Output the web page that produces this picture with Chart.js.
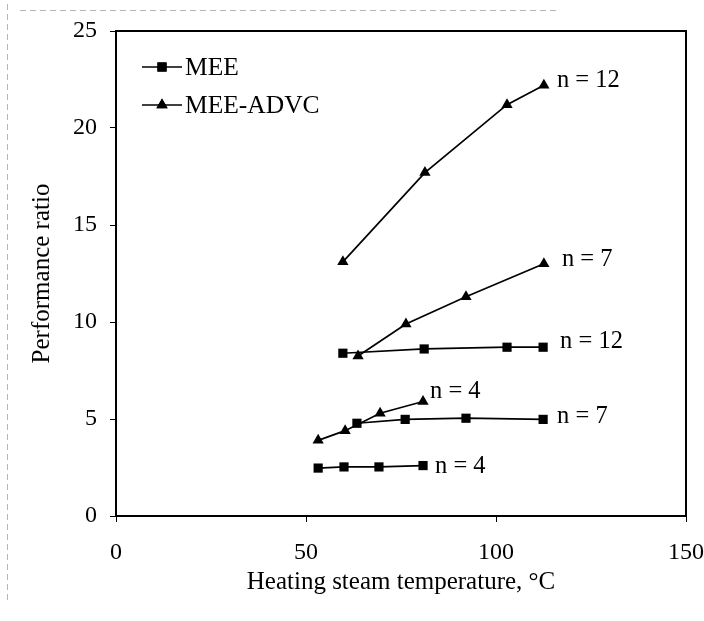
<!DOCTYPE html>
<html>
<head>
<meta charset="utf-8">
<script src="https://cdn.jsdelivr.net/npm/chart.js@4"></script>
<style>
  html, body { margin: 0; padding: 0; background: #fff; }
  #wrap { width: 704px; height: 621px; }
</style>
</head>
<body>
<div id="wrap"><canvas id="prChart" width="704" height="621"></canvas></div>
<script>
// Heating steam temperature (deg C) and performance ratio
const meeTemp4 = [53.2, 60.0, 69.2, 80.8];
const meePR4 = [2.47, 2.53, 2.53, 2.6];
const meeTemp7 = [63.4, 76.1, 92.1, 112.4];
const meePR7 = [4.78, 4.98, 5.04, 4.98];
const meeTemp12 = [59.7, 81.1, 102.9, 112.4];
const meePR12 = [8.39, 8.61, 8.7, 8.7];

const advcTemp4 = [53.2, 60.3, 69.5, 80.8];
const advcPR4 = [3.9, 4.4, 5.3, 5.9];
const advcTemp7 = [63.7, 76.3, 92.1, 112.6];
const advcPR7 = [8.25, 9.9, 11.3, 13.0];
const advcTemp12 = [59.7, 81.3, 102.9, 112.6];
const advcPR12 = [13.1, 17.7, 21.2, 22.2];

const seriesNames = ['MEE', 'MEE-ADVC'];
const curveLabels = ['n = 4', 'n = 7', 'n = 12', 'n = 4', 'n = 7', 'n = 12'];
const xTicks = [0, 50, 100, 150];
const yTicks = [0, 5, 10, 15, 20, 25];

const FONT = '"Liberation Serif", "Times New Roman", serif';

function toPoints(xs, ys) {
    return xs.map((x, i) => ({ x: x, y: ys[i] }));
}

function makeSet(name, xs, ys, style) {
    return {
        label: name,
        data: toPoints(xs, ys),
        showLine: true,
        borderColor: '#000',
        backgroundColor: '#000',
        borderWidth: 1.7,
        pointStyle: style,
        pointRadius: 6.5,
        pointBorderWidth: 0,
        pointBackgroundColor: '#000',
        tension: 0
    };
}

// pixel nudges for the "n = .." labels, relative to each curve's last point
const labelNudge = [[12, 1], [14, -3], [17, -6], [7, -10], [18, -4], [13, -5]];

const curveLabelPlugin = {
    id: 'curveLabels',
    afterDatasetsDraw(chart) {
        const ctx = chart.ctx;
        ctx.save();
        ctx.fillStyle = '#000';
        ctx.font = '24.5px ' + FONT;
        ctx.textAlign = 'left';
        ctx.textBaseline = 'middle';
        chart.data.datasets.forEach((ds, i) => {
            const last = ds.data[ds.data.length - 1];
            const px = chart.scales.x.getPixelForValue(last.x);
            const py = chart.scales.y.getPixelForValue(last.y);
            ctx.fillText(curveLabels[i], px + labelNudge[i][0], py + labelNudge[i][1]);
        });
        ctx.restore();
    }
};

// faint dotted edges left over from the scanned original
const scanEdgePlugin = {
    id: 'scanEdge',
    beforeDraw(chart) {
        const ctx = chart.ctx;
        ctx.save();
        ctx.strokeStyle = '#b5b5b5';
        ctx.lineWidth = 1;
        ctx.setLineDash([6, 4]);
        ctx.beginPath();
        ctx.moveTo(7.5, 4);
        ctx.lineTo(7.5, 600);
        ctx.moveTo(20, 10.5);
        ctx.lineTo(560, 10.5);
        ctx.stroke();
        ctx.restore();
    }
};

const frameAndLegendPlugin = {
    id: 'frameLegend',
    afterDraw(chart) {
        const ctx = chart.ctx;
        const a = chart.chartArea;
        ctx.save();
        // box round the plot
        ctx.strokeStyle = '#000';
        ctx.lineWidth = 2;
        ctx.strokeRect(a.left, a.top, a.right - a.left, a.bottom - a.top);

        // legend inside the plot, top left
        const styles = ['rect', 'triangle'];
        const rows = [67, 105];
        ctx.font = '25.5px ' + FONT;
        ctx.textBaseline = 'middle';
        ctx.textAlign = 'left';
        seriesNames.forEach((name, i) => {
            const y = rows[i];
            ctx.beginPath();
            ctx.lineWidth = 1.7;
            ctx.moveTo(a.left + 26, y);
            ctx.lineTo(a.left + 66, y);
            ctx.stroke();
            Chart.helpers.drawPoint(ctx, { pointStyle: styles[i], radius: 6.5, borderWidth: 0 }, a.left + 46, y);
            ctx.fillStyle = '#000';
            ctx.fill();
            ctx.fillText(name, a.left + 69, y + 1);
        });
        ctx.restore();
    }
};

const ctx = document.getElementById('prChart').getContext('2d');
const prChart = new Chart(ctx, {
    type: 'scatter',
    data: {
        datasets: [
            makeSet('MEE', meeTemp4, meePR4, 'rect'),
            makeSet('MEE', meeTemp7, meePR7, 'rect'),
            makeSet('MEE', meeTemp12, meePR12, 'rect'),
            makeSet('MEE-ADVC', advcTemp4, advcPR4, 'triangle'),
            makeSet('MEE-ADVC', advcTemp7, advcPR7, 'triangle'),
            makeSet('MEE-ADVC', advcTemp12, advcPR12, 'triangle')
        ]
    },
    options: {
        responsive: false,
        animation: false,
        layout: { padding: { left: 0, top: 31, right: 18, bottom: 0 } },
        plugins: {
            legend: { display: false },
            tooltip: { enabled: false }
        },
        scales: {
            x: {
                type: 'linear',
                min: 0,
                max: 150,
                afterBuildTicks: (scale) => { scale.ticks = xTicks.map(v => ({ value: v })); },
                afterFit: (scale) => {
                    scale.height = 105;
                    scale.paddingLeft = 0;
                    scale.paddingRight = 0;
                },
                grid: { display: true, drawOnChartArea: false, drawTicks: true, tickLength: 6, color: '#000' },
                border: { display: true, color: '#000', width: 2 },
                ticks: { color: '#000', padding: 16, font: { family: FONT, size: 24 } },
                title: {
                    display: true,
                    text: 'Heating steam temperature, \u00B0C',
                    color: '#000',
                    font: { family: FONT, size: 25 },
                    padding: { top: 4, bottom: 24 }
                }
            },
            y: {
                type: 'linear',
                min: 0,
                max: 25,
                afterBuildTicks: (scale) => { scale.ticks = yTicks.map(v => ({ value: v })); },
                afterFit: (scale) => {
                    scale.width = 116;
                    scale.paddingTop = 0;
                    scale.paddingBottom = 0;
                },
                grid: { display: true, drawOnChartArea: false, drawTicks: true, tickLength: 6, color: '#000' },
                border: { display: true, color: '#000', width: 2 },
                ticks: { color: '#000', padding: 13, font: { family: FONT, size: 24 } },
                title: {
                    display: true,
                    text: 'Performance ratio',
                    color: '#000',
                    font: { family: FONT, size: 25 },
                    padding: { top: 27, bottom: 4 }
                }
            }
        }
    },
    plugins: [scanEdgePlugin, curveLabelPlugin, frameAndLegendPlugin]
});
</script>
</body>
</html>
